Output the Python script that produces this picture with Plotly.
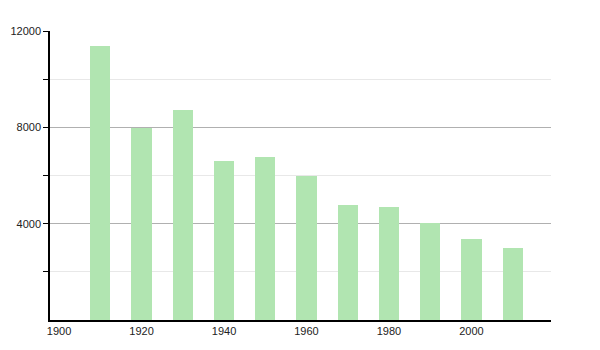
import plotly.graph_objects as go

years = [1910, 1920, 1930, 1940, 1950, 1960, 1970, 1980, 1990, 2000, 2010]
population = [11380, 7990, 8720, 6600, 6770, 5980, 4780, 4680, 4010, 3360, 3000]
x_ticks = [1900, 1920, 1940, 1960, 1980, 2000]
y_ticks = [4000, 8000, 12000]

fig = go.Figure()
fig.add_trace(go.Bar(
    x=years, y=population, width=4.9,
    marker=dict(color="#b1e5b1", line=dict(width=0)),
))

tickfont = dict(family="Liberation Sans, Arial, sans-serif", size=11, color="#222222")

fig.update_layout(
    template="none",
    width=600, height=350,
    margin=dict(l=50, r=49, t=31, b=30),
    paper_bgcolor="white", plot_bgcolor="white",
    showlegend=False,
    font=dict(family="Liberation Sans, Arial, sans-serif", size=11, color="#222222"),
    xaxis=dict(
        range=[1897.8, 2019.3],
        tickvals=x_ticks, ticktext=[str(v) for v in x_ticks],
        tickfont=tickfont,
        showgrid=False, zeroline=False,
        showline=True, linecolor="black", linewidth=1.5,
        ticks="", ticklen=0,
    ),
    yaxis=dict(
        range=[0, 12000],
        tickvals=y_ticks, ticktext=[str(v) for v in y_ticks],
        tickfont=tickfont,
        showgrid=True, gridcolor="#b0b0b0", gridwidth=1,
        zeroline=False,
        showline=True, linecolor="black", linewidth=1.5,
        ticks="outside", ticklen=5, tickcolor="black", tickwidth=1,
        minor=dict(tickvals=[2000, 6000, 10000], showgrid=True,
                   gridcolor="#e8e8e8", gridwidth=1,
                   ticks="outside", ticklen=5, tickcolor="black", tickwidth=1),
    ),
    bargap=0,
)

fig.write_html("out.html")
